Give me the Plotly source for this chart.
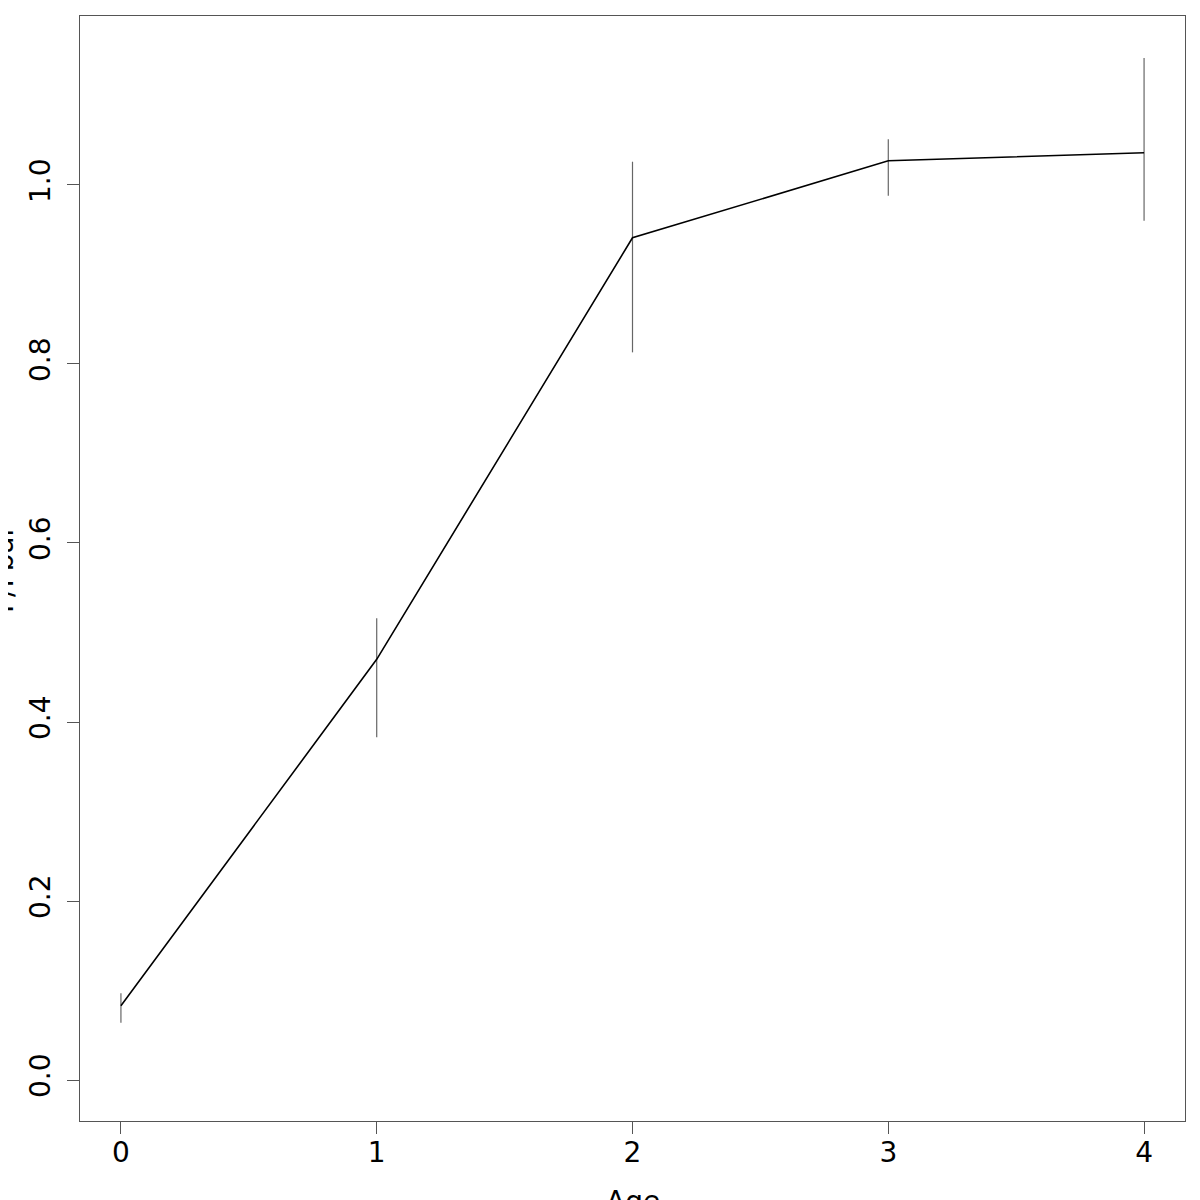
import plotly.graph_objects as go

ages = [0, 1, 2, 3, 4]
fbar = [0.083, 0.470, 0.941, 1.027, 1.036]
upper = [0.097, 0.516, 1.026, 1.051, 1.142]
lower = [0.064, 0.383, 0.813, 0.988, 0.960]

err_plus = [u - m for u, m in zip(upper, fbar)]
err_minus = [m - l for m, l in zip(fbar, lower)]

fig = go.Figure()
fig.add_trace(go.Scatter(
    x=ages, y=fbar, mode="lines",
    line=dict(color="black", width=1.6),
    error_y=dict(type="data", symmetric=False, array=err_plus, arrayminus=err_minus,
                 color="#666666", thickness=1.2, width=0),
    showlegend=False,
))

font = dict(family="DejaVu Sans", size=28, color="black")
fig.update_layout(
    width=1200, height=1200,
    paper_bgcolor="white", plot_bgcolor="white",
    margin=dict(l=72, r=23, t=8, b=87),
    font=font,
    xaxis=dict(range=[-0.16, 4.16], tickvals=[0, 1, 2, 3, 4], ticks="outside", ticklen=12,
               tickcolor="#555555", showgrid=False, zeroline=False, showline=True, mirror=True,
               linecolor="#555555", linewidth=1.2, tickfont=font, ticklabelstandoff=-6),
    yaxis=dict(range=[-0.0458, 1.1888], tickvals=[0, 0.2, 0.4, 0.6, 0.8, 1.0],
               ticktext=["0.0", "0.2", "0.4", "0.6", "0.8", "1.0"], tickangle=-90,
               ticks="outside", ticklen=12, tickcolor="#555555", showgrid=False, zeroline=False,
               showline=True, mirror=True, linecolor="#555555", linewidth=1.2, tickfont=font,
               ticklabelstandoff=6),
    annotations=[
        dict(text="Age", xref="paper", yref="paper", x=0.5, y=-0.056, xanchor="center",
             yanchor="top", showarrow=False, font=font),
        dict(text="F/Fbar", xref="paper", yref="paper", x=-0.0525, y=0.5, xanchor="right",
             yanchor="middle", textangle=-90, showarrow=False, font=font),
    ],
)

fig.write_html("out.html")
